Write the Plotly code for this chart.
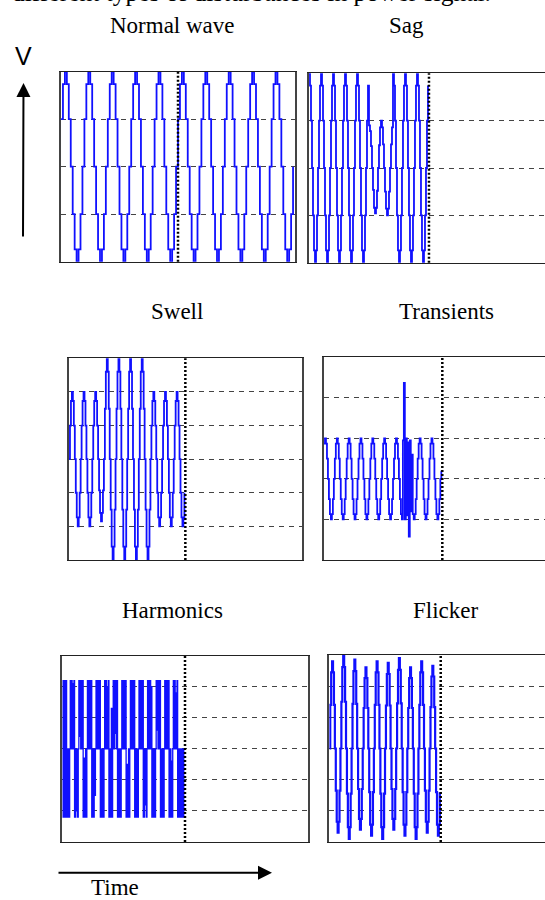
import plotly.graph_objects as go

W, H = 545, 900

NORMAL = [
    0.5, 0.87, 1.0, 0.87, 0.5, 0.0, -0.5, -0.87, -1.0, -0.87, -0.5, 0.0,
    0.5, 0.87, 1.0, 0.87, 0.5, 0.0, -0.5, -0.87, -1.0, -0.87, -0.5, 0.0,
    0.5, 0.87, 1.0, 0.87, 0.5, 0.0, -0.5, -0.87, -1.0, -0.87, -0.5, 0.0,
    0.5, 0.87, 1.0, 0.87, 0.5, 0.0, -0.5, -0.87, -1.0, -0.87, -0.5, 0.0,
    0.5, 0.87, 1.0, 0.87, 0.5, 0.0, -0.5, -0.87, -1.0, -0.87, -0.5, 0.0,
    0.5, 0.87, 1.0, 0.87, 0.5, 0.0, -0.5, -0.87, -1.0, -0.87, -0.5, 0.0,
    0.5, 0.87, 1.0, 0.87, 0.5, 0.0, -0.5, -0.87, -1.0, -0.87, -0.5, 0.0,
    0.5, 0.87, 1.0, 0.87, 0.5, 0.0, -0.5, -0.87, -1.0, -0.87, -0.5, 0.0,
    0.5, 0.87, 1.0, 0.87, 0.5, 0.0, -0.5, -0.87, -1.0, -0.87, -0.5, 0.0,
    0.5, 0.87, 1.0, 0.87, 0.5, 0.0, -0.5, -0.87, -1.0, -0.87, -0.5, 0.0,
]

SAG = [
    1.0, 0.87, 0.5, 0.0, -0.5, -0.87, -1.0, -0.87, -0.5, 0.0, 0.5, 0.87,
    1.0, 0.87, 0.5, 0.0, -0.5, -0.87, -1.0, -0.87, -0.5, 0.0, 0.5, 0.87,
    1.0, 0.87, 0.5, 0.0, -0.5, -0.87, -1.0, -0.87, -0.5, 0.0, 0.5, 0.87,
    1.0, 0.87, 0.5, 0.0, -0.5, -0.87, -1.0, -0.87, -0.5, 0.0, 0.5, 0.87,
    1.0, 0.87, 0.5, 0.0, -0.5, -0.87, -1.0, -0.87, -0.5, 0.0, 0.5, 0.87,
    0.45, 0.39, 0.23, 0.0, -0.23, -0.42, -0.48, -0.42, -0.24, 0.0, 0.24, 0.43,
    0.5, 0.43, 0.25, 0.0, -0.25, -0.43, -0.5, -0.43, -0.25, 0.0, 0.25, 0.43,
    1.0, 0.87, 0.5, 0.0, -0.5, -0.87, -1.0, -0.87, -0.5, 0.0, 0.5, 0.87,
    1.0, 0.87, 0.5, 0.0, -0.5, -0.87, -1.0, -0.87, -0.5, 0.0, 0.5, 0.87,
    1.0, 0.87, 0.5, 0.0, -0.5, -0.87, -1.0, -0.87, -0.5, 0.0, 0.5, 0.87,
]

SWELL = [
    0.0, 1.0, 1.73, 2.0, 1.73, 1.0, 0.0, -1.0, -1.73, -2.0, -1.73, -1.0,
    0.0, 1.0, 1.73, 2.0, 1.73, 1.0, 0.0, -1.0, -1.73, -2.0, -1.73, -1.0,
    0.0, 1.0, 1.73, 2.0, 1.73, 1.0, 0.0, -0.93, -1.6, -1.85, -1.6, -0.93,
    0.0, 1.5, 2.6, 3.0, 2.6, 1.5, 0.0, -1.5, -2.6, -3.0, -2.6, -1.5,
    0.0, 1.5, 2.6, 3.0, 2.6, 1.5, 0.0, -1.5, -2.6, -3.0, -2.6, -1.5,
    0.0, 1.5, 2.6, 3.0, 2.6, 1.5, 0.0, -1.5, -2.6, -3.0, -2.6, -1.5,
    0.0, 1.5, 2.6, 3.0, 2.6, 1.5, 0.0, -1.5, -2.6, -3.0, -2.6, -1.5,
    0.0, 1.0, 1.73, 2.0, 1.73, 1.0, 0.0, -1.0, -1.73, -2.0, -1.73, -1.0,
    0.0, 1.0, 1.73, 2.0, 1.73, 1.0, 0.0, -1.0, -1.73, -2.0, -1.73, -1.0,
    0.0, 1.0, 1.73, 2.0, 1.73, 1.0, 0.0, -1.0, -1.73, -2.0, -1.73, -1.0,
]

TRANSIENTS = [
    0.87, 1.0, 0.87, 0.5, 0.0, -0.5, -0.87, -1.0, -0.87, -0.5, 0.0, 0.5,
    0.87, 1.0, 0.87, 0.5, 0.0, -0.5, -0.87, -1.0, -0.87, -0.5, 0.0, 0.5,
    0.87, 1.0, 0.87, 0.5, 0.0, -0.5, -0.87, -1.0, -0.87, -0.5, 0.0, 0.5,
    0.87, 1.0, 0.87, 0.5, 0.0, -0.5, -0.87, -1.0, -0.87, -0.5, 0.0, 0.5,
    0.87, 1.0, 0.87, 0.5, 0.0, -0.5, -0.87, -1.0, -0.87, -0.5, 0.0, 0.5,
    0.87, 1.0, 0.87, 0.5, 0.0, -0.5, -0.87, -1.0, -0.87, -0.5, 0.0, 0.5,
    0.87, 1.0, 0.87, 0.5, 0.0, -0.5, -0.87, -1.0, 0.95, 2.37, -1.0, 1.0,
    -0.9, 0.9, -1.42, 0.95, -0.8, 0.6, -0.87, -1.0, -0.87, -0.5, 0.0, 0.5,
    0.87, 1.0, 0.87, 0.5, 0.0, -0.5, -0.87, -1.0, -0.87, -0.5, 0.0, 0.5,
    0.87, 1.0, 0.87, 0.5, 0.0, -0.5, -0.87, -1.0, -0.87, -0.5, 0.0, 0.2,
]

HARMONICS = [
    2.2, -2.2, 2.2, -2.2, 2.2, -2.2, 2.2,
    -2.2, 0, -2.2, 0, -2.2, 0, 2.2, 0, 2.2, 0, 2.1, 0, 2.2, -2.2,
    -2.2, 0, -2.0, 0, -2.2, 0, 2.2, 0.4, 2.2, 0, 2.2, 0, 2.2, -2.2,
    -2.2, -0.3, -2.2, 0, -2.2, 0, 2.2, 0, 2.2, 0, 2.2, 0, 2.2, -2.2,
    -2.2, 0, -2.2, 0, -1.5, 0, 2.2, 0, 2.2, 0, 2.2, 0, 2.2, -2.2,
    -2.2, 0, -2.2, 0, -2.2, 0, 2.2, 0, 2.2, 0, 2.0, 0, 2.2, -2.2,
    -2.2, 0, -2.2, 1.3, -2.2, 0, 2.2, 0, 2.2, 0.5, 2.2, 0, 2.2, -2.2,
    -2.2, 0, -2.2, 0, -2.2, 0, 2.2, 0, 2.2, 0, 2.2, 0, 2.2, -2.2,
    -2.2, -0.5, -2.2, 0, -2.2, 0, 2.2, 0, 2.2, 0, 2.2, 0, 2.2, -2.2,
    -2.2, 0, -2.2, 0, -2.2, 0, 2.2, 0, 2.2, 0, 2.2, 0, 2.2, -2.2,
    -2.2, 0, -1.8, 0, -2.2, 0, 2.2, 0, 2.2, 0, 2.2, 0, 2.0, -2.2,
    -2.2, 0, -2.2, 0, -2.2, 0, 2.2, 0.6, 2.2, 0, 2.2, 0, 2.2, -2.2,
    -2.2, 0, -2.2, 0, -2.2, 0, 2.2, 0, 2.2, 0, 2.2, 0, 2.2, -2.2,
    -2.2, 0, -2.2, -0.4, -2.2, 0, 2.2, 0, 2.2, 0, 1.8, 0, 2.2, -2.2,
    -2.2, 0, -2.2, 0, -2.2, 0, -2.2, 0, -2.2, 0, 0,
]

FLICKER = [
    0.0, 1.4, 2.44, 2.8, 2.44, 1.4, 0.0, -1.35, -2.35, -2.7, -2.35, -1.35,
    0.0, 1.5, 2.61, 3.0, 2.61, 1.5, 0.0, -1.45, -2.52, -2.9, -2.52, -1.45,
    0.0, 1.43, 2.48, 2.85, 2.48, 1.43, 0.0, -1.3, -2.26, -2.6, -2.26, -1.3,
    0.0, 1.3, 2.26, 2.6, 2.26, 1.3, 0.0, -1.4, -2.44, -2.8, -2.44, -1.4,
    0.0, 1.4, 2.44, 2.8, 2.44, 1.4, 0.0, -1.45, -2.52, -2.9, -2.52, -1.45,
    0.0, 1.38, 2.39, 2.75, 2.39, 1.38, 0.0, -1.3, -2.26, -2.6, -2.26, -1.3,
    0.0, 1.45, 2.52, 2.9, 2.52, 1.45, 0.0, -1.4, -2.44, -2.8, -2.44, -1.4,
    0.0, 1.3, 2.26, 2.6, 2.26, 1.3, 0.0, -1.45, -2.52, -2.9, -2.52, -1.45,
    0.0, 1.4, 2.44, 2.8, 2.44, 1.4, 0.0, -1.35, -2.35, -2.7, -2.35, -1.35,
    0.0, 1.33, 2.31, 2.65, 2.31, 1.33, 0.0, -1.4, -2.44, -2.8, -2.44, -1.4,
]

TITLES = ["Normal wave", "Sag", "Swell", "Transients", "Harmonics", "Flicker"]
SERIES = [NORMAL, SAG, SWELL, TRANSIENTS, HARMONICS, FLICKER]
SAMPLE_STEP = [100 / 120, 100 / 120, 100 / 120, 100 / 120, 0.5, 100 / 120]
Y_RANGES = [[-1, 1], [-1, 1], [-3, 3], [-2, 3], [-3, 3], [-3, 3]]
GRID_VALUES = [[-0.5, 0, 0.5], [-0.5, 0, 0.5], [-2, -1, 0, 1, 2],
               [-1, 0, 1, 2], [-2, -1, 0, 1, 2], [-2, -1, 0, 1, 2]]
MARKER_TIME = [50, 100, 100, 100, 100, 100]
X_RANGES = [[0, 100], [0, 196.7], [0, 200], [0, 186.8], [0, 200], [0, 193.6]]

# ---------------- layout geometry (pixels) ----------------
BOX_X = [(61, 295), (309, 545), (69, 301.7), (324, 545), (62.3, 307.7), (329.3, 545)]
BOX_Y = [(71.7, 261.7), (73.3, 262.7), (358.3, 560), (357.3, 560), (655.7, 842), (655, 842)]
RIGHT_EDGE = [True, False, True, False, True, False]
LINE_W = [1.8, 1.8, 1.8, 1.8, 1.3, 2.2]
TITLE_POS = [(172, 25), (406, 25), (177, 311), (446, 311), (172.5, 610), (445, 610)]

BLUE = "#1010ff"
SERIF = "Liberation Serif, Times New Roman, serif"

fig = go.Figure()
layout = dict(
    width=W, height=H, margin=dict(l=0, r=0, t=0, b=0),
    paper_bgcolor="white", plot_bgcolor="white", showlegend=False,
)
shapes = []
annotations = []

for i in range(6):
    s = "" if i == 0 else str(i + 1)
    fig.add_trace(go.Scatter(
        y=SERIES[i], x0=0, dx=SAMPLE_STEP[i], mode="lines",
        line=dict(color=BLUE, width=LINE_W[i], shape="hv"),
        xaxis="x" + s, yaxis="y" + s, hoverinfo="skip",
    ))
    x0, x1 = BOX_X[i]
    y0, y1 = BOX_Y[i]
    layout["xaxis" + s] = dict(
        domain=[x0 / W, x1 / W], range=X_RANGES[i], anchor="y" + s,
        showgrid=False, zeroline=False, showticklabels=False, ticks="",
        showline=True, linecolor="#222", linewidth=1.4, mirror=True,
    )
    layout["yaxis" + s] = dict(
        domain=[1 - y1 / H, 1 - y0 / H], range=Y_RANGES[i], anchor="x" + s,
        tickvals=GRID_VALUES[i], showgrid=True, gridcolor="#444", gridwidth=1,
        griddash="5px,5px", zeroline=False, showticklabels=False, ticks="",
        showline=True, linecolor="#444", linewidth=2.2, mirror=RIGHT_EDGE[i],
    )
    shapes.append(dict(
        type="line", xref="x" + s, yref="y" + s + " domain",
        x0=MARKER_TIME[i], x1=MARKER_TIME[i], y0=0, y1=1,
        line=dict(color="black", width=2.5, dash="2px,2px"),
    ))
    tx, ty = TITLE_POS[i]
    annotations.append(dict(
        text=TITLES[i], x=tx / W, y=1 - ty / H, xref="paper", yref="paper",
        xanchor="center", yanchor="middle", showarrow=False,
        font=dict(family=SERIF, size=23, color="black"),
    ))

# caption line at the very top (cut by the page edge, as in the source)
annotations.append(dict(
    text="different types of disturbances in power signal.",
    x=251 / W, y=1 - 9 / H, xref="paper", yref="paper",
    xanchor="center", yanchor="bottom", showarrow=False,
    font=dict(family=SERIF, size=25.5, color="black"),
))
# V label and arrow
annotations.append(dict(
    text="V", x=23.5 / W, y=1 - 56 / H, xref="paper", yref="paper",
    xanchor="center", yanchor="middle", showarrow=False,
    font=dict(family="Liberation Sans, Arial, sans-serif", size=25, color="black"),
))
annotations.append(dict(
    text="", x=23.5 / W, y=1 - 83 / H, xref="paper", yref="paper",
    showarrow=True, ax=-0.5, ay=155, arrowhead=2, arrowwidth=2,
    arrowsize=1.4, arrowcolor="black", standoff=0, startstandoff=0,
))
# Time label and arrow
annotations.append(dict(
    text="", x=272 / W, y=1 - 872.7 / H, xref="paper", yref="paper",
    showarrow=True, ax=-215, ay=0, arrowhead=2, arrowwidth=2,
    arrowsize=1.4, arrowcolor="black", standoff=0, startstandoff=0,
))
annotations.append(dict(
    text="Time", x=115 / W, y=1 - 887 / H, xref="paper", yref="paper",
    xanchor="center", yanchor="middle", showarrow=False,
    font=dict(family=SERIF, size=23, color="black"),
))

layout["shapes"] = shapes
layout["annotations"] = annotations
fig.update_layout(**layout)
fig.write_html(
    "out.html",
    config={"displayModeBar": False},
    post_script="document.body.style.margin='0';document.body.style.padding='0';",
)
